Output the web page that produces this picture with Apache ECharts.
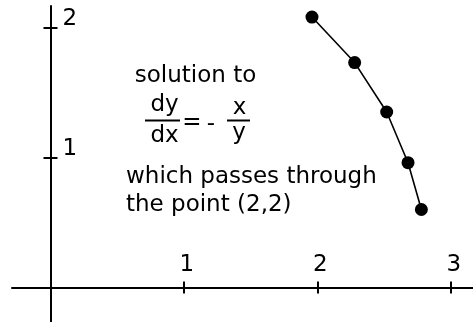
<!DOCTYPE html>
<html>
<head>
<meta charset="utf-8">
<script src="https://cdn.jsdelivr.net/npm/echarts@6/dist/echarts.min.js"></script>
<style>
  html, body { margin: 0; padding: 0; background: #ffffff; }
  #chart { width: 473px; height: 322px; }
</style>
</head>
<body>
<div id="chart"></div>
<script>
// Tick marks and labels on each axis
const xTicks = [1, 2, 3];
const yTicks = [1, 2];

// Approximate solution curve points (x, y)
const solX = [1.96, 2.28, 2.52, 2.68, 2.78];
const solY = [2.08, 1.73, 1.35, 0.96, 0.60];

// Visible axis extents
const xMin = -0.2886, xMax = 3.167;
const yMin = -0.265, yMax = 2.165;

const FONT = '"DejaVu Sans", Verdana, sans-serif';
const INK = '#000000';
const TEXT_SIZE = 23;

const chart = echarts.init(document.getElementById('chart'), null, { renderer: 'canvas' });

const tickStyle = { color: INK, width: 2 };
const labelBase = { color: INK, fontFamily: FONT, fontSize: 23, lineHeight: 17 };

function txt(text, x, y, align) {
  return {
    type: 'text', x: x, y: y, z: 10,
    style: {
      text: text, fill: INK, font: TEXT_SIZE + 'px ' + FONT,
      align: align || 'center', verticalAlign: 'middle'
    }
  };
}
function bar(x1, x2, y) {
  return {
    type: 'line', z: 10,
    shape: { x1: x1, y1: y, x2: x2, y2: y },
    style: { stroke: INK, lineWidth: 2 }
  };
}

// Grid 0 spans the whole canvas: axis lines through the origin, outward ticks, the curve.
// Grid 1 is the positive quadrant only, its edges on the zero lines: inward ticks and labels,
// so each tick crosses its axis line.
const option = {
  animation: false,
  backgroundColor: '#ffffff',
  grid: [
    { left: 12, right: 0, top: 6, bottom: 0, containLabel: false, outerBoundsMode: 'none' },
    { left: 50.5, right: 0, top: 6, bottom: 34.5, containLabel: false, outerBoundsMode: 'none' }
  ],
  xAxis: [
    {
      gridIndex: 0, type: 'value', min: xMin, max: xMax, position: 'bottom',
      axisLine: { show: true, onZero: true, lineStyle: { color: INK, width: 2 } },
      axisTick: { show: true, customValues: xTicks, length: 6, lineStyle: tickStyle },
      axisLabel: { show: false },
      splitLine: { show: false }
    },
    {
      gridIndex: 1, type: 'value', min: 0, max: xMax, position: 'bottom',
      axisLine: { show: false, onZero: false },
      axisTick: { show: true, inside: true, customValues: xTicks, length: 6, lineStyle: tickStyle },
      axisLabel: Object.assign({
        show: true, inside: true, customValues: xTicks, margin: 14,
        align: 'center', verticalAlign: 'bottom', padding: [0, 0, 0, 6],
        formatter: v => String(v)
      }, labelBase),
      splitLine: { show: false }
    }
  ],
  yAxis: [
    {
      gridIndex: 0, type: 'value', min: yMin, max: yMax, position: 'left',
      axisLine: { show: true, onZero: true, lineStyle: { color: INK, width: 2 } },
      axisTick: { show: true, customValues: yTicks, length: 7, lineStyle: tickStyle },
      axisLabel: { show: false },
      splitLine: { show: false }
    },
    {
      gridIndex: 1, type: 'value', min: 0, max: yMax, position: 'left',
      axisLine: { show: false, onZero: false },
      axisTick: { show: true, inside: true, customValues: yTicks, length: 7, lineStyle: tickStyle },
      axisLabel: Object.assign({
        show: true, inside: true, customValues: yTicks, margin: 12,
        align: 'left', verticalAlign: 'bottom',
        formatter: v => String(v)
      }, labelBase),
      splitLine: { show: false }
    }
  ],
  series: [{
    type: 'line',
    xAxisIndex: 0, yAxisIndex: 0,
    data: solX.map((x, i) => [x, solY[i]]),
    symbol: 'circle', symbolSize: 13,
    lineStyle: { color: INK, width: 1.6 },
    itemStyle: { color: INK },
    z: 5
  }],
  graphic: [
    txt('solution to', 195.5, 76),
    txt('dy', 164.5, 105),
    bar(145, 180, 120.5),
    txt('dx', 164.5, 136.5),
    txt('=', 192, 123),
    txt('-', 211, 124),
    txt('x', 239.5, 108),
    bar(227, 250, 120.5),
    txt('y', 239, 133.5),
    txt('which passes through', 126, 177.5, 'left'),
    txt('the point (2,2)', 126, 205, 'left')
  ]
};

chart.setOption(option);
</script>
</body>
</html>
